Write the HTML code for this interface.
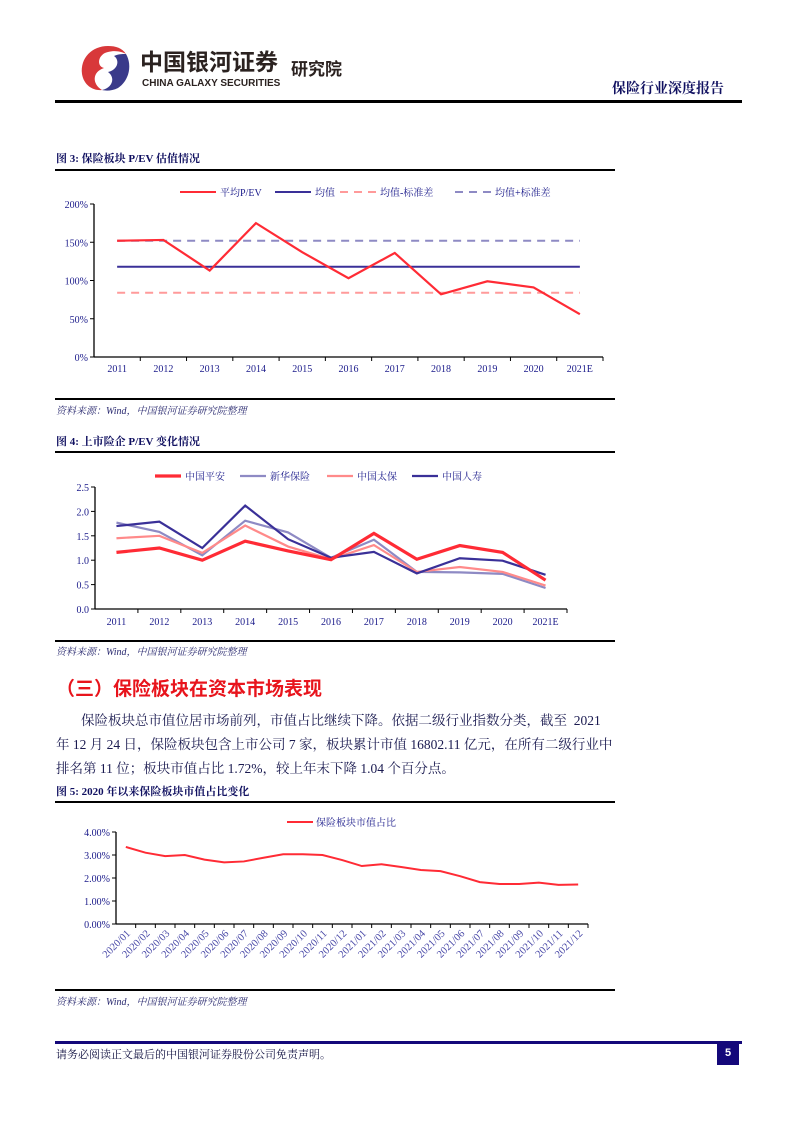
<!DOCTYPE html>
<html><head><meta charset="utf-8"><style>
body{margin:0;background:#fff;}
#page{position:relative;width:793px;height:1122px;overflow:hidden;font-family:"Liberation Serif","Noto Serif CJK SC",serif;color:#1a1a60;}
.abs{position:absolute;white-space:nowrap;}
.hl{position:absolute;background:#000;height:1.5px;}
.ftitle{font-size:11px;font-weight:bold;color:#101060;}
.src{font-size:10px;font-style:italic;color:#2a2a70;}
.body{font-size:13.5px;color:#1a1a50;}
svg text{font-family:"Liberation Serif","Noto Serif CJK SC",serif;}
</style></head><body>
<div id="page">
<svg class="abs" style="left:78px;top:44px" width="56" height="48" viewBox="0 0 56 48">
<path d="M30 2 C14 2 2 14 4 30 C6 42 16 47 24 46 C14 40 14 28 26 24 C18 22 20 10 30 8 C38 6 44 8 48 10 C44 4 38 2 30 2Z" fill="#d8383a"/>
<path d="M48 10 C54 20 52 36 40 44 C34 47 28 47 24 46 C34 44 38 34 30 28 C40 26 42 16 36 12 C40 10 44 10 48 10Z" fill="#3a3a8a"/>
</svg>
<div class="abs" style="left:140px;top:49px;font-family:'Liberation Sans','Noto Sans CJK SC',sans-serif;font-size:23px;line-height:26px;font-weight:bold;color:#2b2220">中国银河证券</div>
<div class="abs" style="left:142px;top:78px;font-family:'Liberation Sans',sans-serif;font-size:10px;font-weight:bold;color:#2b2220">CHINA GALAXY SECURITIES</div>
<div class="abs" style="left:291px;top:60px;font-family:'Liberation Sans','Noto Sans CJK SC',sans-serif;font-size:17px;line-height:20px;font-weight:bold;color:#2b2220">研究院</div>
<div class="abs" style="left:612px;top:78px;font-size:14px;font-weight:bold;color:#101060">保险行业深度报告</div>
<div class="hl" style="left:55px;top:100px;width:687px;height:2.5px"></div>

<div class="abs ftitle" style="left:56px;top:150px">图 3: 保险板块 P/EV 估值情况</div>
<div class="hl" style="left:55px;top:169px;width:560px"></div>
<svg class="abs" id="c1" style="left:0;top:170px" width="793" height="228"></svg>
<div class="hl" style="left:55px;top:398px;width:560px"></div>
<div class="abs src" style="left:56px;top:402px">资料来源：Wind，中国银河证券研究院整理</div>

<div class="abs ftitle" style="left:56px;top:433px">图 4: 上市险企 P/EV 变化情况</div>
<div class="hl" style="left:55px;top:451px;width:560px"></div>
<svg class="abs" id="c2" style="left:0;top:452px" width="793" height="188"></svg>
<div class="hl" style="left:55px;top:640px;width:560px"></div>
<div class="abs src" style="left:56px;top:643px">资料来源：Wind，中国银河证券研究院整理</div>

<div class="abs" style="left:56px;top:674px;font-size:19px;font-weight:bold;color:#e8141c;font-family:'Liberation Sans','Noto Sans CJK SC',sans-serif">（三）保险板块在资本市场表现</div>
<div class="abs body" style="left:81px;top:709px">保险板块总市值位居市场前列，市值占比继续下降。依据二级行业指数分类，截至&nbsp; 2021</div>
<div class="abs body" style="left:56px;top:733px">年 12 月 24 日，保险板块包含上市公司 7 家，板块累计市值 16802.11 亿元，在所有二级行业中</div>
<div class="abs body" style="left:56px;top:757px">排名第 11 位；板块市值占比 1.72%，较上年末下降 1.04 个百分点。</div>

<div class="abs ftitle" style="left:56px;top:783px">图 5: 2020 年以来保险板块市值占比变化</div>
<div class="hl" style="left:55px;top:801px;width:560px"></div>
<svg class="abs" id="c3" style="left:0;top:802px" width="793" height="188"></svg>
<div class="hl" style="left:55px;top:989px;width:560px"></div>
<div class="abs src" style="left:56px;top:993px">资料来源：Wind，中国银河证券研究院整理</div>

<div class="abs" style="left:55px;top:1041px;width:687px;height:3px;background:#14087a"></div>
<div class="abs" style="left:56px;top:1046px;font-size:11px;color:#101040">请务必阅读正文最后的中国银河证券股份公司免责声明。</div>
<div class="abs" style="left:717px;top:1043px;width:22px;height:22px;background:#14087a;color:#fff;font-family:'Liberation Sans',sans-serif;font-size:11px;font-weight:bold;text-align:center;line-height:20px">5</div>
</div>
<script>
const NS='http://www.w3.org/2000/svg';
function mk(p,t,a){const e=document.createElementNS(NS,t);for(const k in a)e.setAttribute(k,a[k]);p.appendChild(e);return e;}
const years=['2011','2012','2013','2014','2015','2016','2017','2018','2019','2020','2021E'];
// chart 1
const pevAvg=[152,153,113,175,137,103,136,82,99,91,56];
const pevMean=118, pevLow=84, pevHigh=152;
const yTicks1=['0%','50%','100%','150%','200%'];
// chart 2
const pingan=[1.16,1.25,1.0,1.39,1.19,1.01,1.55,1.02,1.30,1.16,0.59];
const xinhua=[1.77,1.58,1.10,1.81,1.57,1.05,1.42,0.76,0.75,0.72,0.43];
const taibao=[1.45,1.50,1.15,1.71,1.28,1.02,1.31,0.76,0.86,0.76,0.48];
const renshou=[1.70,1.79,1.25,2.12,1.43,1.05,1.17,0.73,1.04,0.99,0.70];
const yTicks2=['0.0','0.5','1.0','1.5','2.0','2.5'];
// chart 3
const months=['2020/01','2020/02','2020/03','2020/04','2020/05','2020/06','2020/07','2020/08','2020/09','2020/10','2020/11','2020/12','2021/01','2021/02','2021/03','2021/04','2021/05','2021/06','2021/07','2021/08','2021/09','2021/10','2021/11','2021/12'];
const share=[3.35,3.1,2.95,3.0,2.8,2.68,2.72,2.88,3.03,3.03,3.0,2.78,2.52,2.6,2.48,2.35,2.3,2.08,1.82,1.74,1.74,1.8,1.7,1.72];
const yTicks3=['0.00%','1.00%','2.00%','3.00%','4.00%'];

function axes(svg,x0,x1,y0,y1,n,yt){
  mk(svg,'line',{x1:x0,y1:y0,x2:x0,y2:y1,stroke:'#000','stroke-width':1.3});
  mk(svg,'line',{x1:x0,y1:y1,x2:x1,y2:y1,stroke:'#000','stroke-width':1.3});
  const w=(x1-x0)/n;
  for(let i=1;i<=n;i++)mk(svg,'line',{x1:x0+i*w,y1:y1,x2:x0+i*w,y2:y1+4,stroke:'#000'});
  for(let i=0;i<yt.length;i++){const y=y1-(y1-y0)*i/(yt.length-1);
    mk(svg,'line',{x1:x0-4,y1:y,x2:x0,y2:y,stroke:'#000'});
    const t=mk(svg,'text',{x:x0-6,y:y+4,'text-anchor':'end','font-size':10,fill:'#1a1a8a'});t.textContent=yt[i];}
  return w;
}
function poly(svg,vals,xf,yf,a){return mk(svg,'polyline',Object.assign({points:vals.map((v,i)=>xf(i)+','+yf(v)).join(' '),fill:'none'},a));}

(function(){
 const s=document.getElementById('c1');const T=170;
 const x0=94,x1=603,y0=204-T,y1=357-T;
 const w=axes(s,x0,x1,y0,y1,years.length,yTicks1);
 const xf=i=>x0+w*(i+0.5), yf=v=>y1-(y1-y0)*v/200;
 years.forEach((y,i)=>{const t=mk(s,'text',{x:xf(i),y:y1+15,'text-anchor':'middle','font-size':10,fill:'#1a1a8a'});t.textContent=y;});
 const hl=(v,c,d,nm)=>{const l=mk(s,'line',{x1:xf(0),x2:xf(years.length-1),y1:yf(v),y2:yf(v),stroke:c,'stroke-width':2,'stroke-dasharray':d||''});};
 hl(pevHigh,'#8e8ac4','8,6','mean-plus-std-line');
 hl(pevLow,'#ff9a9a','8,6','mean-minus-std-line');
 hl(pevMean,'#3a3098',null,'mean-line');
 const p=poly(s,pevAvg,xf,yf,{stroke:'#ff2b35','stroke-width':2.2});
 
 
 const lg=[['平均P/EV','#ff2b35',''],['均值','#3a3098',''],['均值-标准差','#ff9a9a','8,6'],['均值+标准差','#8e8ac4','8,6']];
 const lx=[180,275,340,455];
 lg.forEach((g,i)=>{mk(s,'line',{x1:lx[i],x2:lx[i]+36,y1:22,y2:22,stroke:g[1],'stroke-width':2,'stroke-dasharray':g[2]});
  const t=mk(s,'text',{x:lx[i]+40,y:26,'font-size':10,fill:'#1a1a8a'});t.textContent=g[0];
  
  });
})();
(function(){
 const s=document.getElementById('c2');const T=452;
 const x0=95,x1=567,y0=487-T,y1=609-T;
 const w=axes(s,x0,x1,y0,y1,years.length,yTicks2);
 const xf=i=>x0+w*(i+0.5), yf=v=>y1-(y1-y0)*v/2.5;
 years.forEach((y,i)=>{const t=mk(s,'text',{x:xf(i),y:y1+16,'text-anchor':'middle','font-size':10,fill:'#1a1a8a'});t.textContent=y;});
 const ser=[[xinhua,'#8e8ac4',2.2,'新华保险','xinhua-line'],[taibao,'#ff8a8a',2.2,'中国太保','taibao-line'],[renshou,'#3a3098',2.2,'中国人寿','renshou-line'],[pingan,'#ff2b35',3.2,'中国平安','pingan-line']];
 ser.forEach(a=>{const p=poly(s,a[0],xf,yf,{stroke:a[1],'stroke-width':a[2]});
  
  });
 const lo=[3,0,1,2],lx=[155,240,327,412];
 lo.forEach((k,i)=>{const a=ser[k];mk(s,'line',{x1:lx[i],x2:lx[i]+26,y1:24,y2:24,stroke:a[1],'stroke-width':a[2]});
  const t=mk(s,'text',{x:lx[i]+30,y:28,'font-size':10,fill:'#1a1a8a'});t.textContent=a[3];
  
  });
})();
(function(){
 const s=document.getElementById('c3');const T=802;
 const x0=116,x1=588,y0=832-T,y1=924-T;
 const w=axes(s,x0,x1,y0,y1,months.length,yTicks3);
 const xf=i=>x0+w*(i+0.5), yf=v=>y1-(y1-y0)*v/4;
 months.forEach((m,i)=>{const x=xf(i)+5,y=y1+10;const t=mk(s,'text',{x:x,y:y,'text-anchor':'end','font-size':10.5,fill:'#4a4aa8',transform:'rotate(-45 '+x+' '+y+')'});t.textContent=m;});
 const p=poly(s,share,xf,yf,{stroke:'#ff2b35','stroke-width':2});
 
 
 mk(s,'line',{x1:287,x2:313,y1:20,y2:20,stroke:'#ff2b35','stroke-width':2});
 const t=mk(s,'text',{x:316,y:24,'font-size':10,fill:'#1a1a8a'});t.textContent='保险板块市值占比';
 
 
})();
</script>
</body></html>
